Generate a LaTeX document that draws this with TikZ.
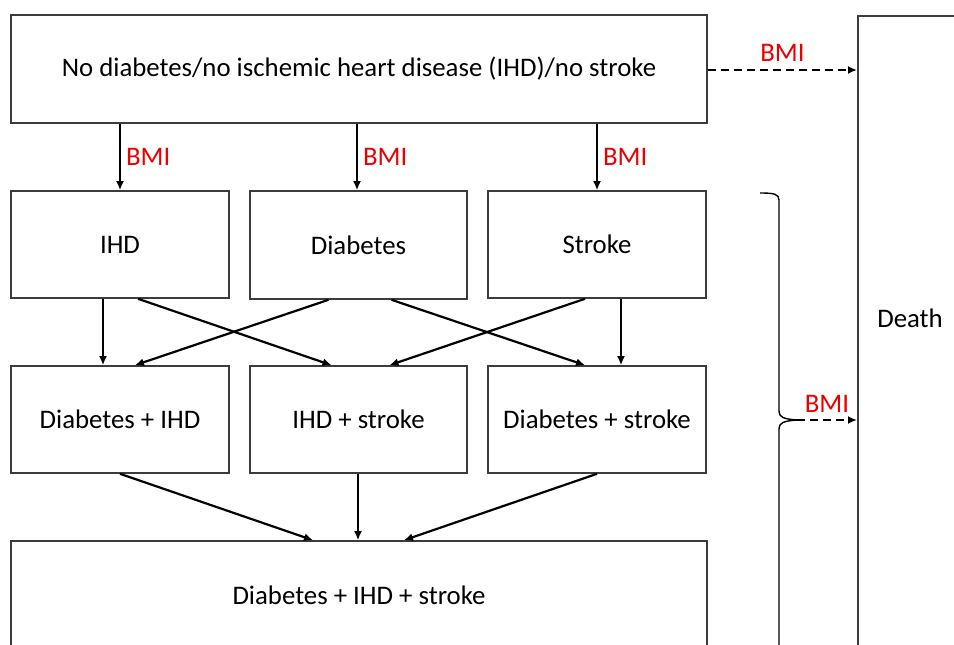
\documentclass[tikz,border=0pt]{standalone}
\usepackage{fontspec}
\setmainfont{Carlito}
\usetikzlibrary{arrows.meta}
\definecolor{boxline}{RGB}{60,60,60}
\definecolor{bmired}{RGB}{235,0,0}
\begin{document}
\begin{tikzpicture}[x=1pt,y=-1pt,
  box/.style={draw=boxline,line width=1.6pt,rectangle,inner sep=0pt,font=\fontsize{26.8}{30}\selectfont},
  arr/.style={draw=black,line width=2.2pt,-{Latex[length=9pt,width=8pt]}},
  darr/.style={arr,dash pattern=on 8pt off 5pt},
  bmi/.style={text=bmired,font=\fontsize{26.8}{30}\selectfont,inner sep=0pt},
  lbl/.style={font=\fontsize{26.8}{30}\selectfont,inner sep=0pt}]
\clip (0,0) rectangle (954,645);
\fill[white] (0,0) rectangle (954,645);
% boxes
\node[box,minimum width=696pt,minimum height=108pt] (top) at (359,69) {No diabetes/no ischemic heart disease (IHD)/no stroke};
\node[box,minimum width=218pt,minimum height=107pt] (ihd) at (120,244.5) {IHD};
\node[box,minimum width=217pt,minimum height=108pt] (diab) at (358.5,245) {Diabetes};
\node[box,minimum width=218pt,minimum height=107pt] (stroke) at (597,244.5) {Stroke};
\node[box,minimum width=218pt,minimum height=107pt] (dihd) at (120,419.5) {Diabetes + IHD};
\node[box,minimum width=217pt,minimum height=107pt] (ihds) at (358.5,419.5) {IHD + stroke};
\node[box,minimum width=218pt,minimum height=107pt] (dstroke) at (597,419.5) {Diabetes + stroke};
\node[box,minimum width=696pt,minimum height=108pt] (all) at (359,595) {Diabetes + IHD + stroke};
\node[box,minimum width=110pt,minimum height=660pt,anchor=north west] (death) at (857,15) {};
\node[lbl] (deathlbl) at (910,318) {Death};
% top arrows
\draw[arr] (top.south -| ihd.north) -- node[bmi,right,xshift=5pt] {BMI} (ihd.north);
\draw[arr] ([xshift=-1.5pt]top.south -| diab.north) -- node[bmi,right,xshift=5pt] {BMI} ([xshift=-1.5pt]diab.north);
\draw[arr] (top.south -| stroke.north) -- node[bmi,right,xshift=5pt] {BMI} (stroke.north);
% row 2 -> row 3
\draw[arr] ([xshift=-17pt]ihd.south) -- ([xshift=-17pt]dihd.north);
\draw[arr] ([xshift=18pt]ihd.south) -- ([xshift=-27pt]ihds.north);
\draw[arr] ([xshift=-30pt]diab.south) -- ([xshift=15pt]dihd.north);
\draw[arr] ([xshift=33pt]diab.south) -- ([xshift=-12pt]dstroke.north);
\draw[arr] ([xshift=-12pt]stroke.south) -- ([xshift=31pt]ihds.north);
\draw[arr] ([xshift=24pt]stroke.south) -- ([xshift=24pt]dstroke.north);
% row 3 -> bottom
\draw[arr] (dihd.south) -- ([xshift=-46pt]all.north);
\draw[arr] ([xshift=-0.5pt]ihds.south) -- ([xshift=-1pt]all.north);
\draw[arr] (dstroke.south) -- ([xshift=45pt]all.north);
% to death
\draw[darr] ([yshift=-1pt]top.east) -- node[bmi,above,yshift=7pt] {BMI} ([yshift=-1pt]top.east -| death.west);
% brace
\coordinate (bracetip) at (797,420);
\draw[black,line width=1.4pt] (760,193) .. controls (774,193) and (779,194) .. (779,200) -- (779,411) .. controls (779,417) and (783,419) .. (bracetip);
\draw[black,line width=1.4pt] (bracetip) .. controls (783,421) and (779,423) .. (779,429) -- (779,660);
\draw[darr] (bracetip) -- node[bmi,above,yshift=6pt] {BMI} (bracetip -| death.west);
\end{tikzpicture}
\end{document}
